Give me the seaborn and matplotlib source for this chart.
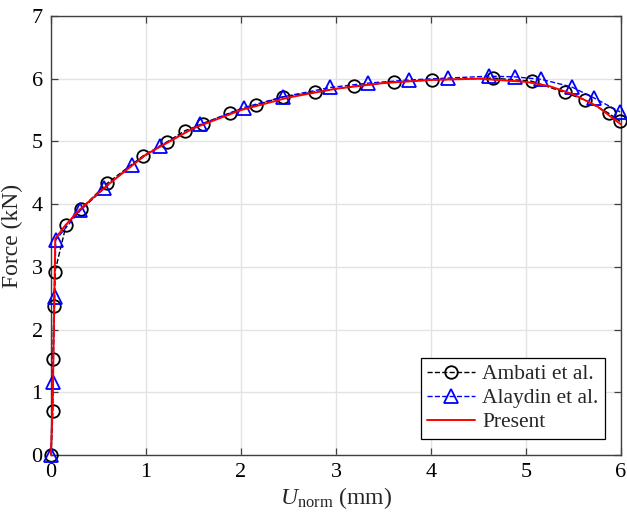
import matplotlib
matplotlib.use("Agg")
import matplotlib.pyplot as plt
import seaborn as sns
import pandas as pd

# Force-displacement data (displacement in mm, force in kN)
ambati_u = [0.0, 0.02, 0.02, 0.03, 0.04, 0.16, 0.32, 0.59, 0.97, 1.22, 1.41, 1.60,
            1.88, 2.16, 2.44, 2.78, 3.19, 3.61, 4.01, 4.65, 5.06, 5.41, 5.62, 5.87, 5.99]
ambati_f = [0.0, 0.70, 1.53, 2.37, 2.91, 3.67, 3.93, 4.33, 4.77, 4.99, 5.17, 5.28,
            5.45, 5.58, 5.71, 5.79, 5.88, 5.95, 5.98, 6.01, 5.96, 5.78, 5.66, 5.45, 5.32]

alaydin_u = [0.0, 0.02, 0.04, 0.05, 0.31, 0.56, 0.85, 1.15, 1.57, 2.03, 2.44, 2.94,
             3.34, 3.77, 4.18, 4.61, 4.88, 5.16, 5.48, 5.72, 5.99]
alaydin_f = [0.0, 1.17, 2.52, 3.43, 3.90, 4.25, 4.63, 4.93, 5.27, 5.54, 5.71, 5.86,
             5.93, 5.98, 6.01, 6.04, 6.03, 5.99, 5.87, 5.69, 5.47]

present_u = [0.0, 0.02, 0.035, 0.045, 0.15, 0.30, 0.60, 1.00, 1.50, 2.00, 2.50, 3.00,
             3.50, 4.00, 4.50, 5.00, 5.25, 5.50, 5.75, 6.00]
present_f = [0.0, 1.00, 2.50, 3.45, 3.66, 3.91, 4.31, 4.79, 5.21, 5.50, 5.70, 5.84,
             5.93, 5.98, 6.00, 5.95, 5.88, 5.75, 5.56, 5.27]

x_ticks = [0, 1, 2, 3, 4, 5, 6]
y_ticks = [0, 1, 2, 3, 4, 5, 6, 7]

sns.set_theme(style="whitegrid")
plt.rcParams["font.family"] = ["Liberation Serif", "DejaVu Serif"]
plt.rcParams["mathtext.fontset"] = "custom"
plt.rcParams["mathtext.rm"] = "Liberation Serif"
plt.rcParams["mathtext.it"] = "Liberation Serif:italic"

fig = plt.figure(figsize=(6.27, 5.24), dpi=100)
ax = fig.add_axes([0.0813, 0.1317, 0.9091, 0.8378])

df_a = pd.DataFrame({"u": ambati_u, "f": ambati_f})
df_b = pd.DataFrame({"u": alaydin_u, "f": alaydin_f})
df_p = pd.DataFrame({"u": present_u, "f": present_f})

sns.lineplot(data=df_a, x="u", y="f", ax=ax, sort=False, estimator=None,
             color="black", linestyle="--", linewidth=1.0, marker="o",
             markersize=9, markerfacecolor="none", markeredgecolor="black",
             markeredgewidth=1.3, label="Ambati et al.", zorder=3, clip_on=False)
sns.lineplot(data=df_b, x="u", y="f", ax=ax, sort=False, estimator=None,
             color="blue", linestyle="--", linewidth=1.0, marker="^",
             markersize=9.5, markerfacecolor="none", markeredgecolor="blue",
             markeredgewidth=1.3, label="Alaydin et al.", zorder=4, clip_on=False)
sns.lineplot(data=df_p, x="u", y="f", ax=ax, sort=False, estimator=None,
             color="red", linestyle="-", linewidth=1.4, label="Present", zorder=5,
             clip_on=False)

ax.set_xlim(0, 6)
ax.set_ylim(0, 7)
ax.set_xticks(x_ticks)
ax.set_yticks(y_ticks)
ax.set_xticklabels([str(t) for t in x_ticks], fontsize=16)
ax.set_yticklabels([str(t) for t in y_ticks], fontsize=16)
ax.set_xlabel(r"$\mathit{U}_{\mathrm{norm}}$ (mm)", fontsize=17, labelpad=2)
ax.set_ylabel("Force (kN)", fontsize=17, labelpad=6)

ax.set_facecolor("white")
ax.grid(True, color="#e3e3e3", linewidth=1.0)
for side in ["left", "right", "top", "bottom"]:
    ax.spines[side].set_visible(True)
    ax.spines[side].set_color("#404040")
    ax.spines[side].set_linewidth(1.0)
    ax.spines[side].set_zorder(2)
ax.tick_params(axis="both", which="both", direction="in", length=5, width=0.9,
               color="#404040", top=True, right=True, bottom=True, left=True,
               pad=6, labelcolor="black")

leg = ax.legend(loc="lower right", fontsize=15.5, frameon=True, fancybox=False,
                edgecolor="black", framealpha=1.0, borderpad=0.3,
                handlelength=2.2, handletextpad=0.35, labelspacing=0.18,
                borderaxespad=0.75)
leg.get_frame().set_linewidth(0.9)
leg.set_zorder(10)

fig.savefig("out.png", dpi=100, facecolor="white")
